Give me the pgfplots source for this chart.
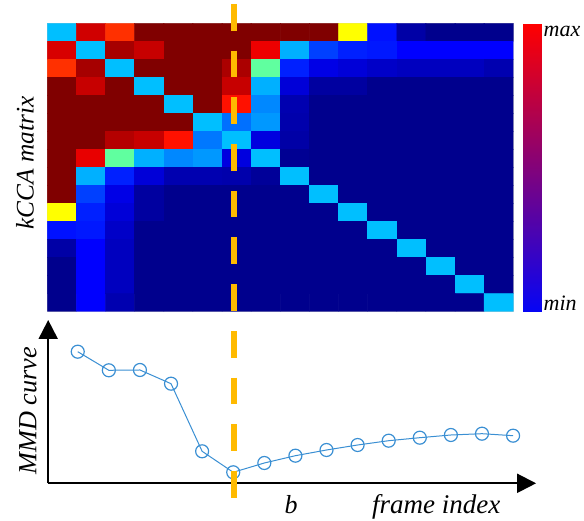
\documentclass[border=0pt]{standalone}
\usepackage{pgfplots}
\pgfplotsset{compat=1.18}
\usepackage{fontspec}
\setmainfont{Liberation Serif}
\usetikzlibrary{arrows.meta}
\definecolor{mmdblue}{RGB}{58,143,211}
\definecolor{borange}{RGB}{255,186,0}
\begin{document}
\begin{tikzpicture}[x=1pt,y=1pt]
\path[use as bounding box] (0,0) rectangle (584,521);
% kCCA matrix
\begin{axis}[at={(47.3pt,209.7pt)}, anchor=south west, scale only axis,
  width=466pt, height=288pt, xmin=0.5, xmax=16.5, ymin=0.5, ymax=16.5,
  y dir=reverse, xtick=\empty, ytick=\empty,
  axis line style={draw=black!20, line width=0.4pt},
  colormap={myjet}{rgb255(0cm)=(0,0,128) rgb255(1cm)=(0,0,255) rgb255(3cm)=(0,255,255) rgb255(5cm)=(255,255,0) rgb255(7cm)=(255,0,0) rgb255(8cm)=(128,0,0)},
  point meta min=0, point meta max=8]
\addplot[matrix plot*, mesh/cols=16, point meta=explicit] coordinates {
(1,1)[2.5] (2,1)[7.37] (3,1)[6.62] (4,1)[8] (5,1)[8] (6,1)[8] (7,1)[8] (8,1)[8] (9,1)[8] (10,1)[8] (11,1)[5] (12,1)[1.13] (13,1)[0.3] (14,1)[0.1] (15,1)[0.1] (16,1)[0.1]
(1,2)[7.31] (2,2)[2.5] (3,2)[7.7] (4,2)[7.44] (5,2)[8] (6,2)[8] (7,2)[8] (8,2)[7.13] (9,2)[2.38] (10,2)[1.5] (11,2)[1.25] (12,2)[1.19] (13,2)[1] (14,2)[1] (15,2)[1] (16,2)[1]
(1,3)[6.62] (2,3)[7.7] (3,3)[2.5] (4,3)[8] (5,3)[8] (6,3)[8] (7,3)[7.66] (8,3)[3.75] (9,3)[1.25] (10,3)[0.8] (11,3)[0.69] (12,3)[0.57] (13,3)[0.5] (14,3)[0.5] (15,3)[0.5] (16,3)[0.38]
(1,4)[8] (2,4)[7.44] (3,4)[8] (4,4)[2.5] (5,4)[8] (6,4)[8] (7,4)[7.44] (8,4)[2.38] (9,4)[0.69] (10,4)[0.25] (11,4)[0.25] (12,4)[0.1] (13,4)[0.1] (14,4)[0.1] (15,4)[0.1] (16,4)[0.1]
(1,5)[8] (2,5)[8] (3,5)[8] (4,5)[8] (5,5)[2.5] (6,5)[8] (7,5)[6.87] (8,5)[2.07] (9,5)[0.38] (10,5)[0.1] (11,5)[0.1] (12,5)[0.1] (13,5)[0.1] (14,5)[0.1] (15,5)[0.1] (16,5)[0.1]
(1,6)[8] (2,6)[8] (3,6)[8] (4,6)[8] (5,6)[8] (6,6)[2.5] (7,6)[1.88] (8,6)[2.19] (9,6)[0.35] (10,6)[0.1] (11,6)[0.1] (12,6)[0.1] (13,6)[0.1] (14,6)[0.1] (15,6)[0.1] (16,6)[0.1]
(1,7)[8] (2,7)[8] (3,7)[7.59] (4,7)[7.44] (5,7)[6.87] (6,7)[1.94] (7,7)[2.5] (8,7)[0.75] (9,7)[0.3] (10,7)[0.1] (11,7)[0.1] (12,7)[0.1] (13,7)[0.1] (14,7)[0.1] (15,7)[0.1] (16,7)[0.1]
(1,8)[8] (2,8)[7.18] (3,8)[3.75] (4,8)[2.38] (5,8)[2.07] (6,8)[2.19] (7,8)[0.75] (8,8)[2.5] (9,8)[0.15] (10,8)[0.1] (11,8)[0.1] (12,8)[0.1] (13,8)[0.1] (14,8)[0.1] (15,8)[0.1] (16,8)[0.1]
(1,9)[8] (2,9)[2.38] (3,9)[1.25] (4,9)[0.69] (5,9)[0.38] (6,9)[0.38] (7,9)[0.35] (8,9)[0.2] (9,9)[2.5] (10,9)[0.1] (11,9)[0.1] (12,9)[0.1] (13,9)[0.1] (14,9)[0.1] (15,9)[0.1] (16,9)[0.1]
(1,10)[8] (2,10)[1.5] (3,10)[0.8] (4,10)[0.25] (5,10)[0.1] (6,10)[0.1] (7,10)[0.1] (8,10)[0.1] (9,10)[0.1] (10,10)[2.5] (11,10)[0.1] (12,10)[0.1] (13,10)[0.1] (14,10)[0.1] (15,10)[0.1] (16,10)[0.1]
(1,11)[5] (2,11)[1.25] (3,11)[0.69] (4,11)[0.25] (5,11)[0.1] (6,11)[0.1] (7,11)[0.1] (8,11)[0.1] (9,11)[0.1] (10,11)[0.1] (11,11)[2.5] (12,11)[0.1] (13,11)[0.1] (14,11)[0.1] (15,11)[0.1] (16,11)[0.1]
(1,12)[1.13] (2,12)[1.19] (3,12)[0.57] (4,12)[0.1] (5,12)[0.1] (6,12)[0.1] (7,12)[0.1] (8,12)[0.1] (9,12)[0.1] (10,12)[0.1] (11,12)[0.1] (12,12)[2.5] (13,12)[0.1] (14,12)[0.1] (15,12)[0.1] (16,12)[0.1]
(1,13)[0.3] (2,13)[1] (3,13)[0.5] (4,13)[0.1] (5,13)[0.1] (6,13)[0.1] (7,13)[0.1] (8,13)[0.1] (9,13)[0.1] (10,13)[0.1] (11,13)[0.1] (12,13)[0.1] (13,13)[2.5] (14,13)[0.1] (15,13)[0.1] (16,13)[0.1]
(1,14)[0.1] (2,14)[1] (3,14)[0.5] (4,14)[0.1] (5,14)[0.1] (6,14)[0.1] (7,14)[0.1] (8,14)[0.1] (9,14)[0.1] (10,14)[0.1] (11,14)[0.1] (12,14)[0.1] (13,14)[0.1] (14,14)[2.5] (15,14)[0.1] (16,14)[0.1]
(1,15)[0.1] (2,15)[1] (3,15)[0.5] (4,15)[0.1] (5,15)[0.1] (6,15)[0.1] (7,15)[0.1] (8,15)[0.1] (9,15)[0.1] (10,15)[0.1] (11,15)[0.1] (12,15)[0.1] (13,15)[0.1] (14,15)[0.1] (15,15)[2.5] (16,15)[0.1]
(1,16)[0.1] (2,16)[1] (3,16)[0.38] (4,16)[0.1] (5,16)[0.1] (6,16)[0.1] (7,16)[0.1] (8,16)[0.1] (9,16)[0.1] (10,16)[0.1] (11,16)[0.1] (12,16)[0.1] (13,16)[0.1] (14,16)[0.1] (15,16)[0.1] (16,16)[2.5]
};
\end{axis}
% colour bar (min to max)
\begin{axis}[at={(522.7pt,209.3pt)}, anchor=south west, scale only axis,
  width=18.6pt, height=287.7pt, xmin=0, xmax=1, ymin=0, ymax=1,
  xtick=\empty, ytick=\empty, axis line style={draw=black!20, line width=0.4pt},
  colormap={bluered}{rgb255=(5,5,245) rgb255=(255,0,0)},
  point meta min=0, point meta max=1]
\addplot[surf, shader=interp, mesh/cols=2, point meta=y] coordinates {(0,0) (1,0) (0,1) (1,1)};
\end{axis}
% MMD curve
\begin{axis}[at={(48.2pt,37.7pt)}, anchor=south west, scale only axis,
  width=487.9pt, height=163.3pt, xmin=0.05, xmax=15.74, ymin=0, ymax=1.633,
  axis lines=left, axis line style={line width=2pt, -{Triangle[length=19pt,width=19pt]}},
  xtick=\empty, ytick=\empty, clip=false]
\addplot[color=mmdblue, line width=1pt, mark=o, mark size=6.5pt, mark options={line width=1.2pt}] coordinates {
(1,1.316) (2,1.130) (3,1.133) (4,0.996) (5,0.320) (6,0.110) (7,0.203) (8,0.276) (9,0.333) (10,0.383) (11,0.426) (12,0.456) (13,0.483) (14,0.496) (15,0.476)};
\end{axis}
\draw[color=borange, line width=6.3pt, dash pattern=on 26.7pt off 20pt] (234.3,517) -- (234.3,23.3);
\node[rotate=90, font=\fontsize{25.3}{30}\selectfont\itshape] at (25,358) {kCCA matrix};
\node[rotate=90, font=\fontsize{26.2}{30}\selectfont\itshape] at (28,110) {MMD curve};
\node[anchor=base, font=\fontsize{26}{30}\selectfont\itshape] at (291,7.5) {b};
\node[anchor=base, font=\fontsize{27}{30}\selectfont\itshape] at (436.3,7.7) {frame index};
\node[anchor=base west, inner sep=0pt, font=\fontsize{22}{26}\selectfont\itshape] at (543.5,484.3) {max};
\node[anchor=base west, inner sep=0pt, font=\fontsize{22}{26}\selectfont\itshape] at (543.5,210.3) {min};
\end{tikzpicture}
\end{document}
